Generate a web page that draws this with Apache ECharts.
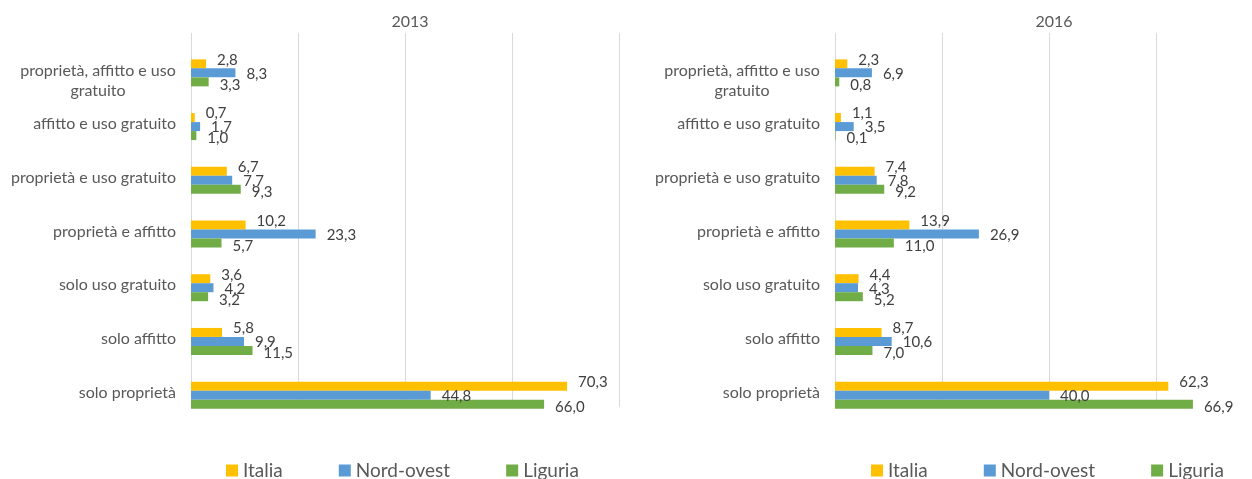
<!DOCTYPE html>
<html>
<head>
<meta charset="utf-8">
<script src="https://cdn.jsdelivr.net/npm/echarts@6/dist/echarts.min.js"></script>
<style>
  html, body { margin: 0; padding: 0; background: #fff; }
  #chart { width: 1252px; height: 479px; }
</style>
</head>
<body>
<div id="chart"></div>
<script>
// categorie dal basso verso l'alto (come nel grafico Excel)
var categories = [
  'solo proprietà',
  'solo affitto',
  'solo uso gratuito',
  'proprietà e affitto',
  'proprietà e uso gratuito',
  'affitto e uso gratuito',
  'proprietà, affitto e uso gratuito'
];
var seriesNames = ['Italia', 'Nord-ovest', 'Liguria'];
var years = ['2013', '2016'];

var italia2013 = [70.3, 5.8, 3.6, 10.2, 6.7, 0.7, 2.8];
var nordOvest2013 = [44.8, 9.9, 4.2, 23.3, 7.7, 1.7, 8.3];
var liguria2013 = [66.0, 11.5, 3.2, 5.7, 9.3, 1.0, 3.3];

var italia2016 = [62.3, 8.7, 4.4, 13.9, 7.4, 1.1, 2.3];
var nordOvest2016 = [40.0, 10.6, 4.3, 26.9, 7.8, 3.5, 6.9];
var liguria2016 = [66.9, 7.0, 5.2, 11.0, 9.2, 0.1, 0.8];

var colors = ['#FFC000', '#5B9BD5', '#70AD47'];
var labelOffsets = [[0, -4], [0, 1], [0, 3]];
var font = 'Lato, "Open Sans", sans-serif';

var chart = echarts.init(document.getElementById('chart'));

function catLabel(v) {
  // etichetta lunga su due righe, centrata
  if (v.length > 26) {
    var i = v.lastIndexOf(' ');
    return '\n{c|' + v.slice(0, i) + '}\n{c|' + v.slice(i + 1) + '}';
  }
  return v;
}

function makeSeries(data, idx, axisIdx) {
  return {
    name: seriesNames[idx],
    type: 'bar',
    xAxisIndex: axisIdx,
    yAxisIndex: axisIdx,
    data: data,
    barWidth: 9,
    barGap: '0%',
    itemStyle: { color: colors[idx] },
    label: {
      show: true,
      position: 'right',
      distance: 11,
      offset: labelOffsets[idx],
      color: '#404040',
      fontSize: 15,
      fontFamily: font,
      formatter: function (p) { return p.value.toFixed(1).replace('.', ','); }
    }
  };
}

var panelLeft = [191, 835];
var plotWidth = 428;

var grids = [], xAxes = [], yAxes = [], titles = [], legends = [];
panelLeft.forEach(function (left, k) {
  // griglia per le barre
  grids.push({ left: left, width: plotWidth, top: 46, height: 376, outerBoundsMode: 'none' });
  // griglia per le linee verticali
  grids.push({ left: left, width: plotWidth, top: 33, height: 374, outerBoundsMode: 'none' });

  xAxes.push({
    gridIndex: 2 * k, type: 'value', min: 0, max: 80, interval: 20,
    axisLabel: { show: false }, axisLine: { show: false },
    axisTick: { show: false }, splitLine: { show: false }
  });
  xAxes.push({
    gridIndex: 2 * k + 1, type: 'value', min: 0, max: 80, interval: 20,
    axisLabel: { show: false }, axisLine: { show: false },
    axisTick: { show: false },
    splitLine: { show: true, lineStyle: { color: '#d9d9d9', width: 1 } }
  });
  yAxes.push({
    gridIndex: 2 * k, type: 'category', data: categories,
    axisLine: { show: false }, axisTick: { show: false },
    axisLabel: {
      color: '#595959', fontSize: 16, fontFamily: font, margin: 15,
      lineHeight: 20, padding: [0, 0, 5, 0], formatter: catLabel,
      rich: { c: { width: 156, align: 'center', color: '#595959', fontSize: 16, fontFamily: font, lineHeight: 20 } }
    }
  });
  yAxes.push({
    gridIndex: 2 * k + 1, type: 'category', data: categories, show: false
  });

  titles.push({
    text: years[k],
    left: left + plotWidth / 2,
    top: 9,
    textAlign: 'center',
    textStyle: { color: '#595959', fontSize: 16, fontWeight: 'normal', fontFamily: font }
  });
  legends.push({
    data: seriesNames,
    left: k === 0 ? 221 : 866,
    top: 456,
    icon: 'rect',
    itemWidth: 12,
    itemHeight: 12,
    itemGap: 56,
    textStyle: { color: '#595959', fontSize: 19, fontFamily: font }
  });
});

var option = {
  animation: false,
  title: titles,
  legend: legends,
  grid: grids,
  xAxis: xAxes,
  yAxis: yAxes,
  series: [
    makeSeries(italia2013, 0, 0),
    makeSeries(nordOvest2013, 1, 0),
    makeSeries(liguria2013, 2, 0),
    makeSeries(italia2016, 0, 2),
    makeSeries(nordOvest2016, 1, 2),
    makeSeries(liguria2016, 2, 2)
  ]
};

chart.setOption(option);
</script>
</body>
</html>
